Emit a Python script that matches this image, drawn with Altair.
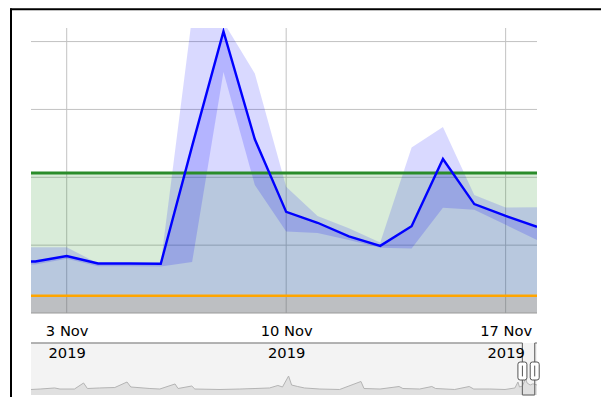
import altair as alt
import pandas as pd

# ---------------- main series (daily) ----------------
DATES = ["2019-11-01", "2019-11-02", "2019-11-03", "2019-11-04", "2019-11-05", "2019-11-06",
         "2019-11-07", "2019-11-08", "2019-11-09", "2019-11-10", "2019-11-11", "2019-11-12",
         "2019-11-13", "2019-11-14", "2019-11-15", "2019-11-16", "2019-11-17", "2019-11-18"]
VALUE    = [0.75, 0.76, 0.84, 0.73, 0.73, 0.725, 2.46, 4.15, 2.56, 1.49, 1.33, 1.13, 0.99, 1.28, 2.27, 1.605, 1.43, 1.27]
OUTER_HI = [0.97, 0.97, 0.97, 0.73, 0.73, 0.73, 4.37, 4.29, 3.53, 1.86, 1.43, 1.25, 1.04, 2.44, 2.74, 1.74, 1.555, 1.56]
OUTER_LO = [0.0, 0.0, 0.0, 0.0, 0.0, 0.0, 0.0, 0.0, 0.0, 0.0, 0.0, 0.0, 0.0, 0.0, 0.0, 0.0, 0.0, 0.0]
INNER_HI = [0.75, 0.76, 0.84, 0.73, 0.73, 0.725, 2.46, 4.15, 2.56, 1.49, 1.33, 1.13, 0.99, 1.28, 2.27, 1.605, 1.43, 1.27]
INNER_LO = [0.70, 0.715, 0.80, 0.69, 0.69, 0.685, 0.75, 3.55, 1.885, 1.20, 1.18, 1.075, 0.96, 0.95, 1.55, 1.52, 1.30, 1.075]

GREEN_LEVEL = 2.065
ORANGE_LEVEL = 0.253
GRID_Y = [1, 2, 3, 4]
AXIS_Y = [0]
TICK_DATES = ["2019-11-03", "2019-11-10", "2019-11-17"]

# ---------------- range selector (overview) series ----------------
MINI_DATES = ["2018-01-26", "2018-02-07", "2018-02-26", "2018-03-05", "2018-03-24", "2018-04-05",
              "2018-04-10", "2018-04-26", "2018-05-16", "2018-06-01", "2018-06-06", "2018-07-01",
              "2018-07-14", "2018-08-03", "2018-08-07", "2018-08-25", "2018-08-29", "2018-10-01",
              "2018-10-27", "2018-11-16", "2018-12-05", "2018-12-16", "2018-12-22", "2018-12-30",
              "2019-01-03", "2019-01-11", "2019-01-20", "2019-02-09", "2019-03-07", "2019-04-04",
              "2019-04-08", "2019-04-29", "2019-05-24", "2019-05-29", "2019-06-20", "2019-07-06",
              "2019-07-11", "2019-08-05", "2019-08-24", "2019-08-30", "2019-09-20", "2019-10-10",
              "2019-10-23", "2019-10-27", "2019-10-29", "2019-11-02", "2019-11-06", "2019-11-08",
              "2019-11-12", "2019-11-15", "2019-11-17", "2019-11-21"]
MINI_VALUES = [1.06, 1.15, 1.35, 1.15, 1.15, 2.31, 1.25, 1.35, 1.44, 2.5, 1.54, 1.25, 1.15, 2.12,
               1.25, 1.73, 1.15, 1.06, 1.15, 1.25, 1.35, 1.83, 1.54, 3.65, 1.92, 1.63, 1.35, 1.15,
               1.06, 2.6, 1.25, 1.15, 1.63, 1.25, 1.15, 1.63, 1.25, 1.06, 1.63, 1.15, 1.15, 1.06,
               1.35, 2.5, 1.54, 1.73, 3.27, 2.31, 1.92, 2.12, 2.12, 1.92]
MINI_START = "2018-01-26T00:00:00"
MINI_END = "2019-11-21T00:00:00"
WIN_START = "2019-11-01T20:40:00"
WIN_END = "2019-11-18T00:00:00"

T = "T00:00:00"
main_df = pd.DataFrame({
    "date": [d + T for d in DATES],
    "value": VALUE, "outer_hi": OUTER_HI, "outer_lo": OUTER_LO,
    "inner_hi": INNER_HI, "inner_lo": INNER_LO,
})
mini_df = pd.DataFrame({"mdate": [d + T for d in MINI_DATES], "mv": MINI_VALUES})

FONT = "DejaVu Sans"
W, H = 506, 367

xs_main = alt.Scale(domain=[alt.DateTime(year=2019, month=11, date=1, hours=20, minutes=40),
                            alt.DateTime(year=2019, month=11, date=18)], nice=False)
axis_main = alt.Axis(
    values=[alt.DateTime(year=2019, month=11, date=int(d[-2:])) for d in TICK_DATES],
    labelExpr="[timeFormat(datum.value, '%-d %b'), timeFormat(datum.value, '%Y')]",
    grid=False, ticks=False, domain=False, orient="bottom", offset=-82,
    labelPadding=10, labelFont=FONT, labelFontSize=14.7, labelColor="#000000",
    labelLineHeight=22.5, labelFlush=False, zindex=1, title=None,
)
x_main = alt.X("date:T", scale=xs_main, axis=axis_main)
ys_main = alt.Scale(domain=[0, 4.2], range=[285, 0], nice=False, zero=False)

def ym(field):
    return alt.Y(field, scale=ys_main, axis=None)

grid_h = alt.Chart(pd.DataFrame({"gy": GRID_Y})).mark_rule(color="#c2c2c2", strokeWidth=1).encode(y=ym("gy:Q"))
grid_v = alt.Chart(pd.DataFrame({"date": [d + T for d in TICK_DATES]})).mark_rule(
    color="#c2c2c2", strokeWidth=1).encode(x=x_main, y=alt.value(0), y2=alt.value(285))
lv = pd.DataFrame({"green": [GREEN_LEVEL], "orange": [ORANGE_LEVEL], "base": [0]})
green_area = alt.Chart(lv).mark_rect(color="#008000", opacity=0.15).encode(y=ym("green:Q"), y2="base:Q")
orange_area = alt.Chart(lv).mark_rect(color="#ffa500", opacity=0.15).encode(y=ym("orange:Q"), y2="base:Q")
outer = alt.Chart(main_df).mark_area(color="#0000ff", opacity=0.15, clip=True).encode(
    x=x_main, y=ym("outer_hi:Q"), y2="outer_lo:Q")
inner = alt.Chart(main_df).mark_area(color="#0000ff", opacity=0.17, clip=True).encode(
    x=x_main, y=ym("inner_hi:Q"), y2="inner_lo:Q")
axis_line = alt.Chart(pd.DataFrame({"gy": AXIS_Y})).mark_rule(color="#9a9a9a", strokeWidth=1).encode(y=ym("gy:Q"))
green_line = alt.Chart(lv).mark_rule(color="#2a8c2a", strokeWidth=3).encode(y=ym("green:Q"))
orange_line = alt.Chart(lv).mark_rule(color="#ffa500", strokeWidth=2.5).encode(y=ym("orange:Q"))
blue_line = alt.Chart(main_df).mark_line(color="#0000ff", strokeWidth=2.4, clip=True).encode(
    x=x_main, y=ym("value:Q"))

main_group = alt.layer(grid_h, grid_v, green_area, orange_area, outer, inner, axis_line,
                       green_line, orange_line, blue_line)

# ---------------- range selector ----------------
xs_mini = alt.Scale(domain=[alt.DateTime(year=2018, month=1, date=26),
                            alt.DateTime(year=2019, month=11, date=21)], nice=False)
x_mini = alt.X("mdate:T", scale=xs_mini, axis=None)
ys_mini = alt.Scale(domain=[0, 10], range=[367, 315], nice=False, zero=False)
one = alt.Data(values=[{}])

sel_bg = alt.Chart(one).mark_rect(color="#f3f3f3").encode(
    x=alt.value(0), x2=alt.value(W), y=alt.value(315), y2=alt.value(367))
mini_area = alt.Chart(mini_df).mark_area(color="#e0e0e0").encode(
    x=x_mini, y=alt.Y("mv:Q", scale=ys_mini, axis=None))
mini_line = alt.Chart(mini_df).mark_line(color="#b4b4b4", strokeWidth=1).encode(
    x=x_mini, y=alt.Y("mv:Q", scale=ys_mini, axis=None))
top_seg = alt.Chart(pd.DataFrame({"mdate": [MINI_START, WIN_END], "mdate2": [WIN_START, MINI_END]})).mark_rule(
    color="#9a9a9a", strokeWidth=1.5).encode(x=x_mini, x2="mdate2:T", y=alt.value(315))
win_vert = alt.Chart(pd.DataFrame({"mdate": [WIN_START, WIN_END]})).mark_rule(
    color="#6e6e6e", strokeWidth=1.2).encode(x=x_mini, y=alt.value(315), y2=alt.value(367))
win_bot = alt.Chart(pd.DataFrame({"mdate": [WIN_START], "mdate2": [WIN_END]})).mark_rule(
    color="#6e6e6e", strokeWidth=1.2).encode(x=x_mini, x2="mdate2:T", y=alt.value(367))
HANDLE = ("M-0.5,-0.75 Q-0.5,-1 -0.25,-1 L0.25,-1 Q0.5,-1 0.5,-0.75 L0.5,0.75 Q0.5,1 0.25,1 "
          "L-0.25,1 Q-0.5,1 -0.5,0.75 Z M0,-0.6 L0,0.6")
handles = alt.Chart(pd.DataFrame({"mdate": [WIN_START, WIN_END]})).mark_point(
    shape=HANDLE, size=324, filled=True, fill="#ffffff", stroke="#555555", strokeWidth=1, opacity=1
).encode(x=x_mini, y=alt.value(343))

frame_top = alt.Chart(one).mark_rule(color="#000000", strokeWidth=2).encode(
    x=alt.value(-21), x2=alt.value(575), y=alt.value(-18.7))
frame_left = alt.Chart(one).mark_rule(color="#000000", strokeWidth=2).encode(
    x=alt.value(-20), y=alt.value(-19.5), y2=alt.value(372))

mini_group = alt.layer(sel_bg, mini_area, mini_line, top_seg, win_vert, win_bot, handles,
                       frame_top, frame_left)

chart = alt.layer(main_group, mini_group).resolve_scale(
    x="independent", y="independent"
).properties(
    width=W, height=H,
    padding={"left": 23, "top": 20, "right": 64, "bottom": 2},
    autosize=alt.AutoSizeParams(type="none"),
).configure_view(strokeWidth=0)

chart.save("out.html", embed_options={"renderer": "svg", "actions": False})
